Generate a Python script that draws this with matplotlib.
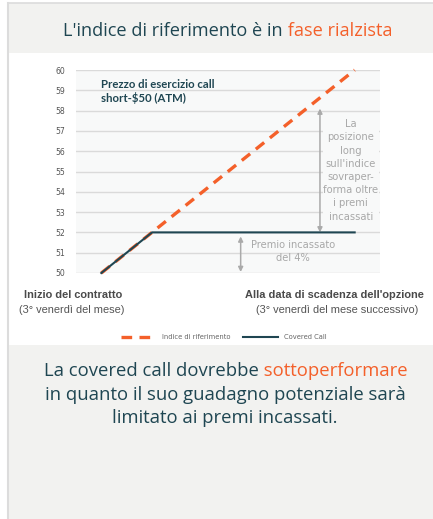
import numpy as np
import matplotlib
matplotlib.use("Agg")
import matplotlib.pyplot as plt
from matplotlib.patches import Rectangle
from matplotlib.lines import Line2D

# data
y_ticks = [50, 51, 52, 53, 54, 55, 56, 57, 58, 59, 60]
index_x = [0, 10]
index_y = [50, 60]
call_x = [0, 2, 10]
call_y = [50, 52, 52]
legend_labels = ["Indice di riferimento", "Covered Call"]

W, H = 433, 519
TEAL = "#1f4652"
ORANGE = "#f4602a"
PANEL = "#f2f2f0"
GREY_TXT = "#a8a8a8"
HEAD_FONT = "Open Sans"


def fx(px):
    return px / W


def fy(py):
    return 1 - py / H


fig = plt.figure(figsize=(W / 100, H / 100), dpi=100)
fig.patch.set_facecolor("white")

# panels and borders
fig.add_artist(Rectangle((fx(8), fy(53)), 1, fy(3) - fy(53), transform=fig.transFigure,
                         facecolor=PANEL, edgecolor="none", zorder=0))
fig.add_artist(Rectangle((fx(8), 0), 1, fy(345), transform=fig.transFigure,
                         facecolor=PANEL, edgecolor="none", zorder=0))
fig.add_artist(Line2D([fx(8), 1], [fy(3), fy(3)], transform=fig.transFigure, color="#dcdcdc", lw=1.2))
fig.add_artist(Line2D([fx(8), fx(8)], [0, fy(3)], transform=fig.transFigure, color="#dcdcdc", lw=1.5))


def rich_line(cx, cy, parts, size, family=HEAD_FONT):
    texts = [fig.text(0, fy(cy), s, color=c, fontsize=size, family=family, va="center", ha="left")
             for s, c in parts]
    r = fig.canvas.get_renderer()
    widths = [t.get_window_extent(r).width for t in texts]
    x = cx - sum(widths) / 2
    for t, w in zip(texts, widths):
        t.set_x(fx(x))
        x += w


rich_line(228, 31, [("L'indice di riferimento è in", TEAL), (" fase rialzista", ORANGE)], 13.1)

# chart
ax = fig.add_axes([fx(76), fy(273), fx(380) - fx(76), fy(70) - fy(273)])
ax.set_facecolor("#f8f9f9")
ax.set_xlim(-1, 11)
ax.set_ylim(50, 60)
ax.set_yticks(y_ticks)
ax.set_xticks([])
ax.grid(axis="y", color="#dadada", lw=1)
ax.set_axisbelow(True)
for s in ax.spines.values():
    s.set_visible(False)
ax.tick_params(axis="y", length=0, pad=8, labelsize=5.6, labelcolor="#555555")

l1, = ax.plot(index_x, index_y, color=ORANGE, lw=2.4, ls=(0, (3.2, 2.2)), clip_on=False, zorder=3)
l2, = ax.plot(call_x, call_y, color=TEAL, lw=1.5, clip_on=False, zorder=4)

ax.text(0, 59.55, "Prezzo di esercizio call\nshort-$50 (ATM)", color=TEAL, fontsize=8.2,
        fontweight="bold", family="Lato", va="top", ha="left", linespacing=1.2)

arrow = dict(arrowstyle="<|-|>", color="#aaaaaa", lw=1.1, mutation_scale=7,
             shrinkA=0, shrinkB=0)
ax.annotate("", xy=(8.63, 58.1), xytext=(8.63, 52.0), arrowprops=arrow)
ax.annotate("", xy=(5.5, 51.8), xytext=(5.5, 50.05), arrowprops=arrow)

ax.text(9.85, 55.05, "La\nposizione\nlong\nsull'indice\nsovraper-\nforma oltre\ni premi\nincassati",
        color=GREY_TXT, fontsize=8, family="DejaVu Sans", fontstretch="condensed",
        ha="center", va="center", linespacing=1.4,
        bbox=dict(facecolor="#f8f9f9", edgecolor="none", pad=0.5))
ax.text(7.57, 51.05, "Premio incassato\ndel 4%", color=GREY_TXT, fontsize=7.9, family="DejaVu Sans",
        fontstretch="condensed", ha="center", va="center", linespacing=1.38)

# x labels
fig.text(fx(73), fy(295), "Inizio del contratto", ha="center", va="center", fontsize=7.9,
         fontweight="bold", family="Liberation Sans", color="#4a4a4a")
fig.text(fx(72), fy(310), "(3° venerdì del mese)", ha="center", va="center", fontsize=7.9,
         family="Liberation Sans", color="#555555")
fig.text(fx(334), fy(295), "Alla data di scadenza dell'opzione", ha="center", va="center", fontsize=7.9,
         fontweight="bold", family="Liberation Sans", color="#4a4a4a")
fig.text(fx(337), fy(310), "(3° venerdì del mese successivo)", ha="center", va="center", fontsize=7.9,
         family="Liberation Sans", color="#555555")

leg = fig.legend([l1, l2], legend_labels, loc="center", bbox_to_anchor=(fx(224), fy(337)), ncol=2,
                 frameon=False, handlelength=4.7, handletextpad=0.8, columnspacing=1.6,
                 prop=dict(family="DejaVu Sans", stretch="condensed", size=5.4))
for t in leg.get_texts():
    t.set_color("#666666")

# bottom text
rich_line(226, 371, [("La covered call dovrebbe", TEAL), (" sottoperformare", ORANGE)], 13.3)
rich_line(225, 395, [("in quanto il suo guadagno potenziale sarà", TEAL)], 13.3)
rich_line(225, 418, [("limitato ai premi incassati.", TEAL)], 13.3)

fig.savefig("out.png", dpi=100)
